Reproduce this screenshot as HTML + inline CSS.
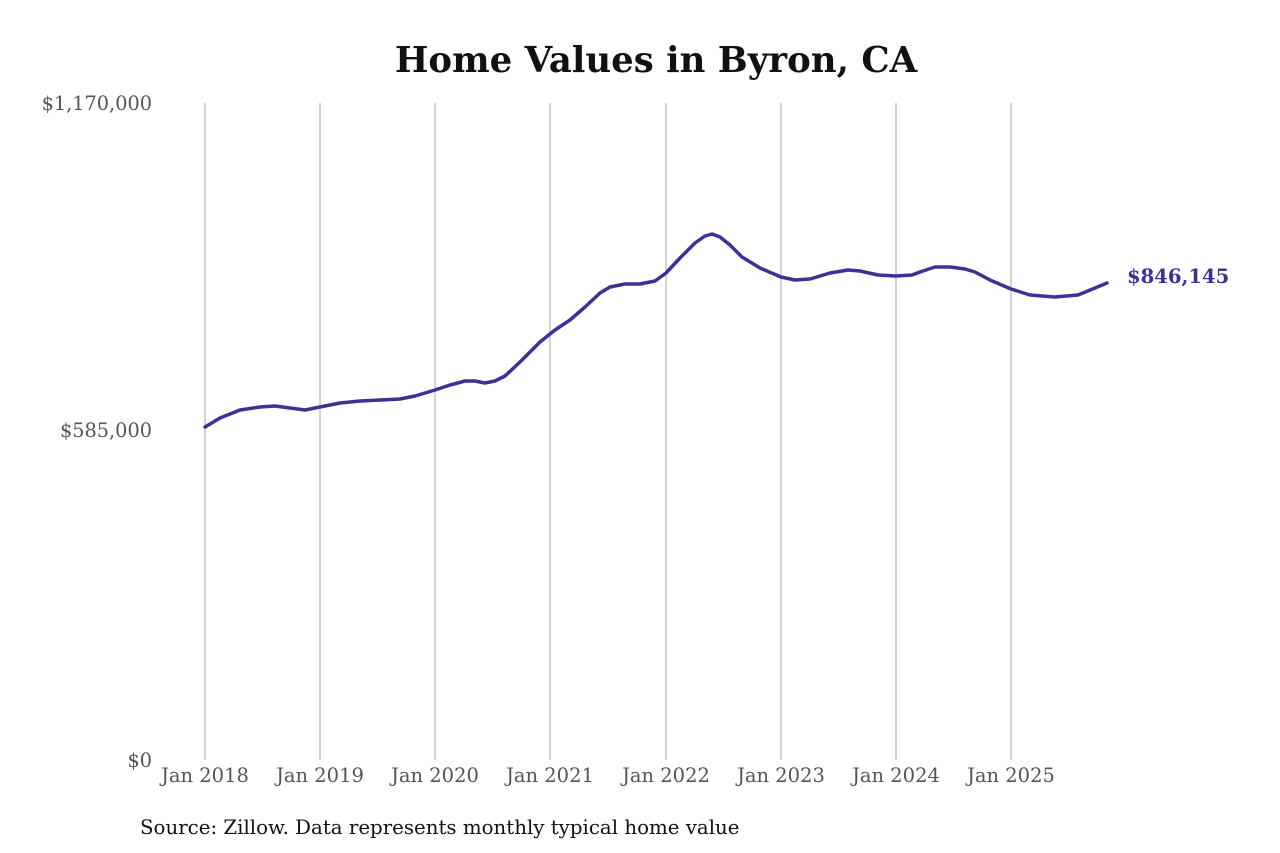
<!DOCTYPE html>
<html><head><meta charset="utf-8"><style>
html,body{margin:0;padding:0;background:#fff;}
svg{display:block;}
text{font-family:"DejaVu Serif","Liberation Serif",serif;}
</style></head><body>
<svg width="1280" height="853" viewBox="0 0 1280 853" xmlns="http://www.w3.org/2000/svg">
<rect width="1280" height="853" fill="#fff"/>
<text x="656" y="72" text-anchor="middle" font-size="35.5" font-weight="bold" fill="#111">Home Values in Byron, CA</text>
<g stroke="#a8a8a8" stroke-width="1">
<line x1="205" y1="103" x2="205" y2="760"/>
<line x1="320" y1="103" x2="320" y2="760"/>
<line x1="435" y1="103" x2="435" y2="760"/>
<line x1="550" y1="103" x2="550" y2="760"/>
<line x1="666" y1="103" x2="666" y2="760"/>
<line x1="781" y1="103" x2="781" y2="760"/>
<line x1="896" y1="103" x2="896" y2="760"/>
<line x1="1011" y1="103" x2="1011" y2="760"/>
</g>
<g font-size="19.3" fill="#555" text-anchor="end">
<text x="152" y="110">$1,170,000</text>
<text x="152" y="437">$585,000</text>
<text x="152" y="767">$0</text>
</g>
<g font-size="19.5" fill="#555" text-anchor="middle">
<text x="205" y="782">Jan 2018</text>
<text x="320" y="782">Jan 2019</text>
<text x="435" y="782">Jan 2020</text>
<text x="550" y="782">Jan 2021</text>
<text x="666" y="782">Jan 2022</text>
<text x="781" y="782">Jan 2023</text>
<text x="896" y="782">Jan 2024</text>
<text x="1011" y="782">Jan 2025</text>
</g>
<polyline fill="none" stroke="#3d3196" stroke-width="3.5" stroke-linejoin="round" stroke-linecap="round"
points="205,427 220,418 240,410 260,407 275,406 290,408 305,410 320,407 340,403 360,401 380,400 400,399 415,396 435,390 450,385 465,381 475,381 485,383 495,381 505,376 520,362 540,342 555,330 570,320 585,307 600,293 610,287 625,284 640,284 655,281 666,273 680,258 695,243 705,236 712,234 720,237 730,245 742,257 760,268 781,277 795,280 810,279 830,273 848,270 860,271 878,275 896,276 912,275 920,272 935,267 950,267 965,269 975,272 990,280 1011,289 1030,295 1055,297 1078,295 1095,288 1107,283"/>
<text x="1127" y="283" font-size="19.6" font-weight="bold" fill="#3d3196">$846,145</text>
<text x="140" y="834" font-size="19.8" fill="#111">Source: Zillow. Data represents monthly typical home value</text>
</svg>
</body></html>
